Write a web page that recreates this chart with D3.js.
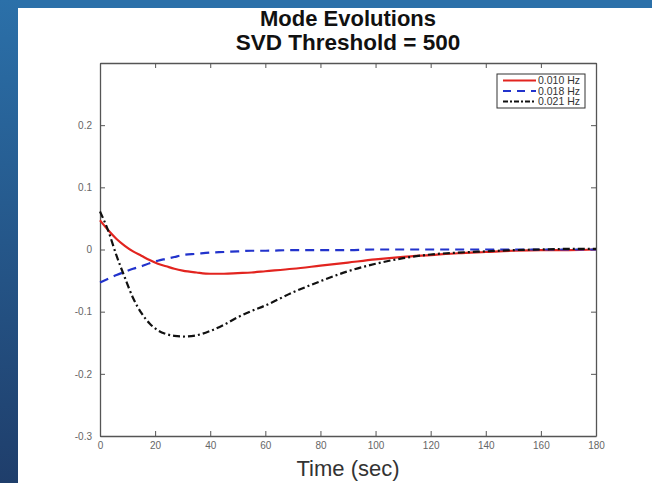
<!DOCTYPE html>
<html>
<head>
<meta charset="utf-8">
<script src="https://cdn.jsdelivr.net/npm/d3@7"></script>
<style>
  body { margin: 0; background: #fff; }
  svg { display: block; font-family: "Liberation Sans", Arial, sans-serif; }
</style>
</head>
<body>
<div id="chart"></div>
<script>
'use strict';

// time samples (sec)
const times = [0, 3, 6, 9, 12, 15, 18, 21, 24, 27, 30, 35, 40, 45, 50, 55, 60, 70, 80, 90, 100, 110, 120, 130, 140, 150, 160, 170, 180];

// mode amplitudes
const mode010 = [0.047, 0.031, 0.017, 0.006, -0.003, -0.01, -0.017, -0.023, -0.027, -0.031, -0.034, -0.037, -0.039, -0.039, -0.038, -0.037, -0.035, -0.031, -0.026, -0.021, -0.016, -0.012, -0.009, -0.006, -0.004, -0.002, -0.001, -0.001, 0];
const mode018 = [-0.053, -0.047, -0.041, -0.036, -0.031, -0.027, -0.022, -0.018, -0.015, -0.012, -0.009, -0.007, -0.005, -0.004, -0.003, -0.002, -0.002, -0.001, -0.001, -0.001, 0, 0, 0, 0, 0, 0, 0, 0, 0];
const mode021 = [0.061, 0.03, -0.01, -0.045, -0.078, -0.102, -0.119, -0.13, -0.136, -0.139, -0.14, -0.138, -0.131, -0.121, -0.109, -0.099, -0.09, -0.069, -0.051, -0.035, -0.023, -0.014, -0.008, -0.005, -0.003, -0.001, 0, 0.001, 0.001];

const seriesNames = ['0.010 Hz', '0.018 Hz', '0.021 Hz'];
const xTicks = [0, 20, 40, 60, 80, 100, 120, 140, 160, 180];
const yTicks = [-0.3, -0.2, -0.1, 0, 0.1, 0.2];

const W = 652, H = 483;
const margin = {top: 63, right: 56, bottom: 47, left: 100};
const width = W - margin.left - margin.right;
const height = H - margin.top - margin.bottom;

const svg = d3.select('#chart').append('svg')
    .attr('width', W)
    .attr('height', H);

// slide background: blue band on top and left
const grad = svg.append('defs').append('linearGradient')
    .attr('id', 'bandGrad')
    .attr('x1', 0).attr('y1', 0).attr('x2', 0).attr('y2', 1);
grad.append('stop').attr('offset', '0%').attr('stop-color', '#2b70a9');
grad.append('stop').attr('offset', '100%').attr('stop-color', '#1f3e6b');

svg.append('rect')
    .attr('width', W).attr('height', 8)
    .attr('fill', '#2b70a9');
svg.append('rect')
    .attr('width', 18).attr('height', H)
    .attr('fill', 'url(#bandGrad)');

const g = svg.append('g')
    .attr('transform', `translate(${margin.left}, ${margin.top})`);

const x = d3.scaleLinear()
    .domain([0, 180])
    .range([0, width]);

const y = d3.scaleLinear()
    .domain([-0.3, 0.3])
    .range([height, 0]);

const axisColor = '#555';
const labelColor = '#666';

function styleAxis(sel) {
  sel.select('.domain').attr('stroke', axisColor).attr('stroke-width', 1.3);
  sel.selectAll('.tick line').attr('stroke', axisColor).attr('stroke-width', 1);
  sel.selectAll('.tick text').attr('fill', labelColor).style('font-size', '10px');
}

g.append('g')
    .attr('transform', `translate(0, ${height})`)
    .call(d3.axisBottom(x).tickValues(xTicks).tickSizeInner(-5).tickSizeOuter(0).tickPadding(6))
    .call(styleAxis);

g.append('g')
    .call(d3.axisTop(x).tickValues(xTicks).tickSizeInner(-5).tickSizeOuter(0).tickFormat(''))
    .call(styleAxis);

g.append('g')
    .call(d3.axisLeft(y).tickValues(yTicks).tickSizeInner(-5).tickSizeOuter(0).tickPadding(8).tickFormat(d => String(d)))
    .call(styleAxis);

g.append('g')
    .attr('transform', `translate(${width}, 0)`)
    .call(d3.axisRight(y).tickValues(yTicks).tickSizeInner(-5).tickSizeOuter(0).tickFormat(''))
    .call(styleAxis);

const series = [
  {name: seriesNames[0], values: mode010, color: '#e2241f', dash: null, key: '8,0'},
  {name: seriesNames[1], values: mode018, color: '#2233cc', dash: '9,6', key: '8,6'},
  {name: seriesNames[2], values: mode021, color: '#111', dash: '7,3,2,3', key: '5,2,2,2'}
];

const line = d3.line()
    .x((d, i) => x(times[i]))
    .y(d => y(d))
    .curve(d3.curveMonotoneX);

g.selectAll('.mode')
    .data(series)
  .enter().append('path')
    .attr('class', 'mode')
    .attr('fill', 'none')
    .attr('stroke', d => d.color)
    .attr('stroke-width', 2.2)
    .attr('stroke-dasharray', d => d.dash)
    .attr('d', d => line(d.values));

// legend
const legend = svg.append('g')
    .attr('transform', 'translate(497, 74)');

legend.append('rect')
    .attr('width', 88).attr('height', 34)
    .attr('fill', '#fff')
    .attr('stroke', '#333')
    .attr('stroke-width', 1);

const item = legend.selectAll('.item')
    .data(series)
  .enter().append('g')
    .attr('class', 'item')
    .attr('transform', (d, i) => `translate(0, ${6.5 + i * 10.5})`);

item.append('line')
    .attr('x1', 6).attr('x2', 39)
    .attr('stroke', d => d.color)
    .attr('stroke-width', 2)
    .attr('stroke-dasharray', d => d.key);

item.append('text')
    .attr('x', 41)
    .attr('dy', '0.35em')
    .attr('fill', '#333')
    .style('font-size', '10.5px')
    .text(d => d.name);

// titles
svg.append('text')
    .attr('x', margin.left + width / 2)
    .attr('y', 26)
    .attr('text-anchor', 'middle')
    .style('font-size', '22px')
    .style('font-weight', 'bold')
    .attr('fill', '#111')
    .text('Mode Evolutions');

svg.append('text')
    .attr('x', margin.left + width / 2)
    .attr('y', 50)
    .attr('text-anchor', 'middle')
    .style('font-size', '22.5px')
    .style('font-weight', 'bold')
    .attr('fill', '#111')
    .text('SVD Threshold = 500');

svg.append('text')
    .attr('x', margin.left + width / 2)
    .attr('y', 476)
    .attr('text-anchor', 'middle')
    .style('font-size', '22px')
    .attr('fill', '#333')
    .text('Time (sec)');
</script>
</body>
</html>
